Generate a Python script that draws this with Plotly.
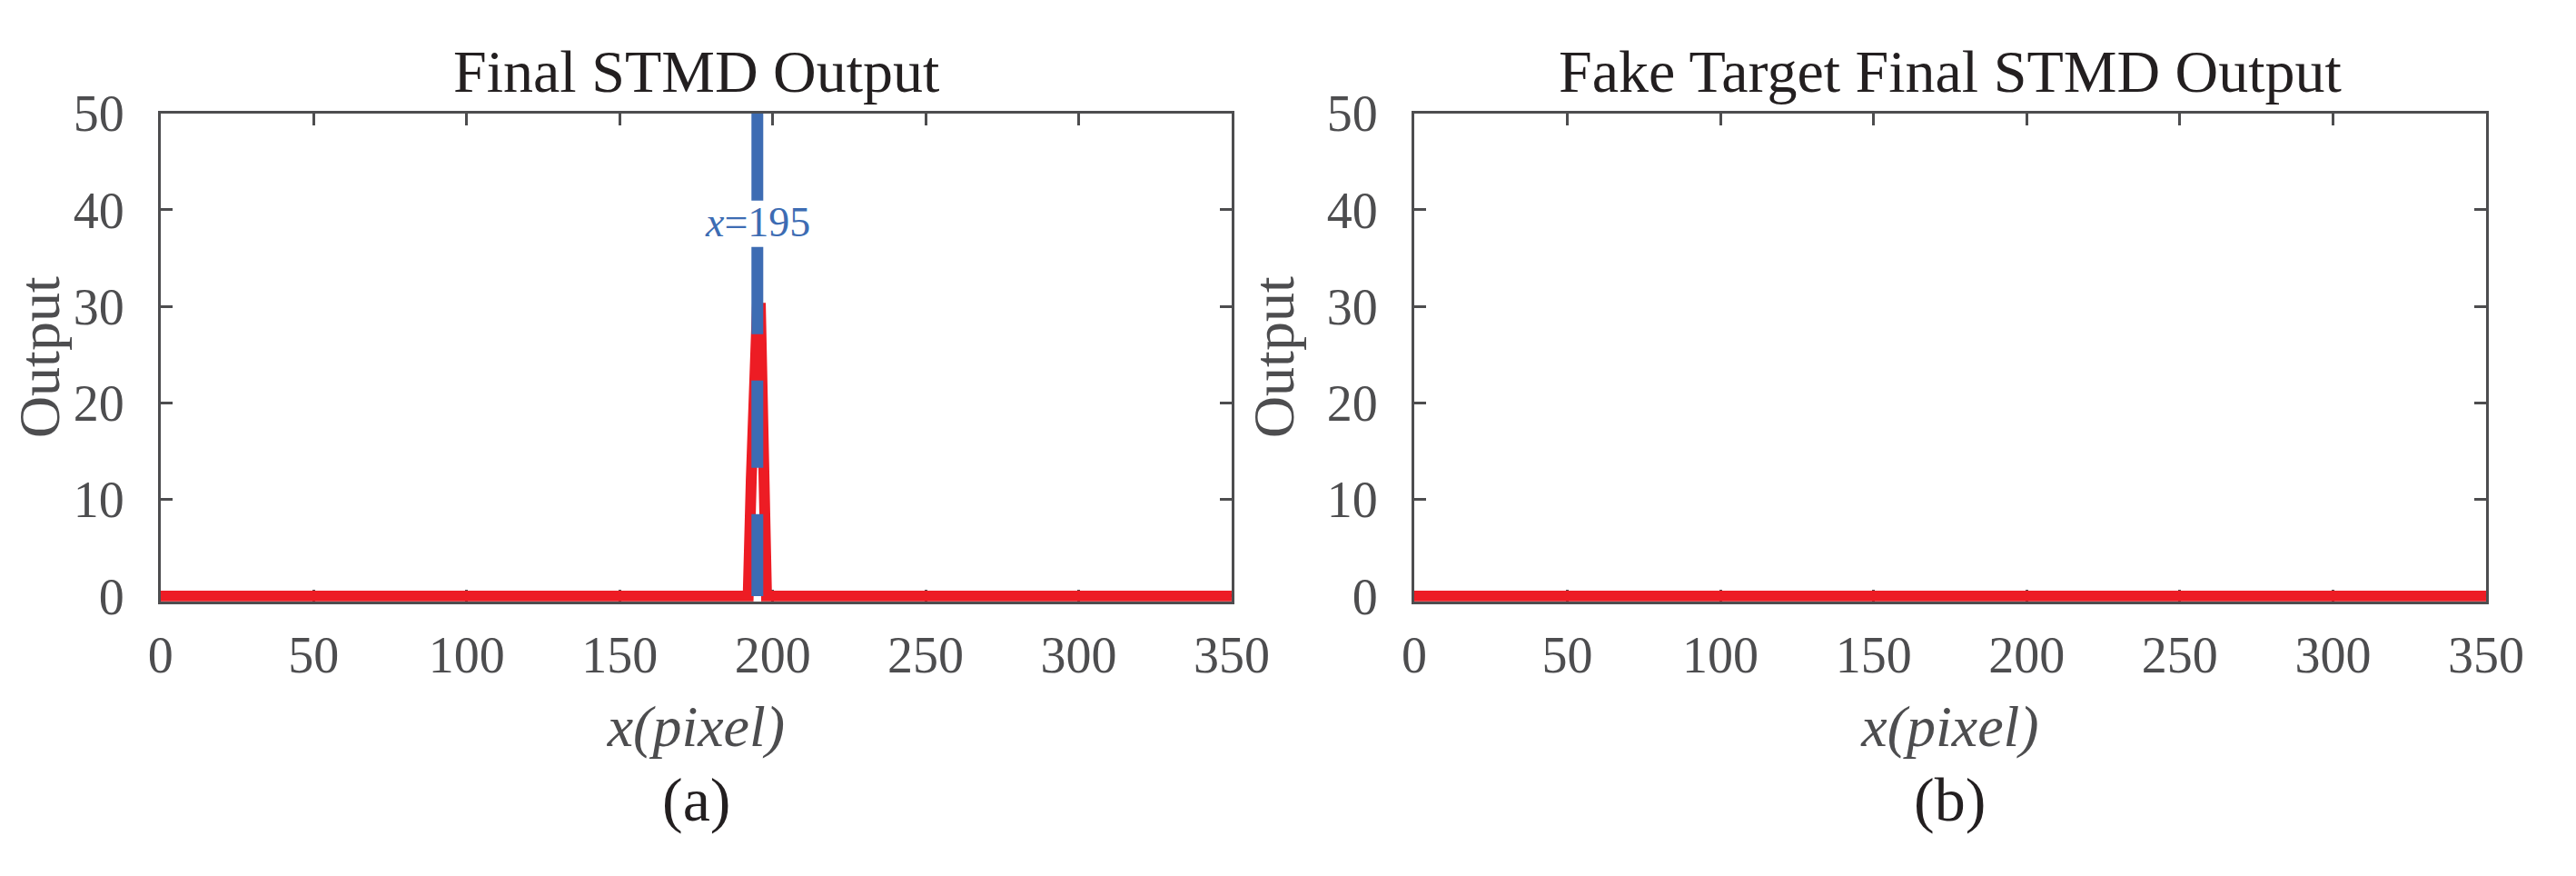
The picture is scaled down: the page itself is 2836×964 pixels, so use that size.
"""Final STMD output: target vs fake target, two panels."""

import plotly.graph_objects as go

# the page body keeps its default 8px margin, so the figure is drawn 8px in
OFF = 8
W, H = 2836 - 2 * OFF, 964 - 2 * OFF

# panel (a): red response around the target position
x_a = [0, 192, 193, 194, 195, 196, 197, 198, 350]
y_a = [0, 0, 12, 25, 29.8, 29.8, 14, 0, 0]
# blue marker line at the detected target position
target_x = [195, 195]
target_y = [50, 0]
target_label = "<i>x</i>=195"
# panel (b): fake target, flat response
x_b = [0, 350]
y_b = [0, 0]

titles = ["Final STMD Output", "Fake Target Final STMD Output"]
panel_tags = ["(a)", "(b)"]
x_ticks = [0, 50, 100, 150, 200, 250, 300, 350]
y_ticks = [0, 10, 20, 30, 40, 50]

RED = "#ed1c24"
BLUE = "#3d6cb3"
GRAY = "#4d4d4f"
INK = "#231f20"
FONT = "Times New Roman, Liberation Serif, serif"


def px_x(p):
    return (p - OFF) / W


def px_y(p):
    return 1 - (p - OFF) / H


fig = go.Figure()
fig.add_trace(go.Scatter(x=x_a, y=y_a, mode="lines", xaxis="x", yaxis="y",
                         line={"color": RED, "width": 12}, showlegend=False))
fig.add_trace(go.Scatter(x=target_x, y=target_y, mode="lines", xaxis="x", yaxis="y",
                         line={"color": BLUE, "width": 13, "dash": "96px,51px"},
                         showlegend=False, hoverinfo="skip"))
fig.add_trace(go.Scatter(x=x_b, y=y_b, mode="lines", xaxis="x2", yaxis="y2",
                         line={"color": RED, "width": 12}, showlegend=False))

axis_common = dict(
    showline=True, linecolor=GRAY, linewidth=3, mirror="ticks",
    ticks="inside", ticklen=13, tickwidth=2.5, tickcolor=GRAY,
    showgrid=False, zeroline=False, layer="below traces",
    tickfont={"family": FONT, "size": 56, "color": GRAY},
)
y_dom = [px_y(670.2), px_y(100)]
panels = [(166, 1369), (1574, 2778)]

layout = dict(
    width=W, height=H,
    margin={"l": 0, "r": 0, "t": 0, "b": 0},
    paper_bgcolor="white", plot_bgcolor="white",
    font={"family": FONT, "color": GRAY},
    showlegend=False,
)
for i, (x0, x1) in enumerate(panels):
    sx = "" if i == 0 else str(i + 1)
    layout["xaxis" + sx] = dict(
        axis_common, domain=[px_x(x0), px_x(x1)], range=[0, 350],
        tickvals=x_ticks, anchor="y" + sx, ticklabelstandoff=8,
        title={"text": "<i>x(pixel)</i>", "font": {"family": FONT, "size": 64, "color": GRAY},
               "standoff": 26},
    )
    layout["yaxis" + sx] = dict(
        axis_common, domain=y_dom, range=[-0.55, 50],
        tickvals=y_ticks, anchor="x" + sx, ticklabelstandoff=26,
        title={"text": "Output", "font": {"family": FONT, "size": 64, "color": GRAY},
               "standoff": 16},
    )
fig.update_layout(**layout)

annotations = []
for i, (x0, x1) in enumerate(panels):
    cx = px_x((x0 + x1) / 2)
    annotations.append(dict(text=titles[i], x=cx, y=px_y(51), xref="paper", yref="paper",
                            showarrow=False, xanchor="center", yanchor="middle",
                            font={"family": FONT, "size": 66, "color": INK}))
    annotations.append(dict(text=panel_tags[i], x=cx, y=px_y(902), xref="paper", yref="paper",
                            showarrow=False, xanchor="center", yanchor="middle",
                            font={"family": FONT, "size": 68, "color": INK}))
annotations.append(dict(text=target_label, x=target_x[0], y=38.7, xref="x", yref="y",
                        showarrow=False, xanchor="center", yanchor="middle",
                        font={"family": FONT, "size": 46, "color": BLUE}))
fig.update_layout(annotations=annotations)

fig.write_html("out.html")
